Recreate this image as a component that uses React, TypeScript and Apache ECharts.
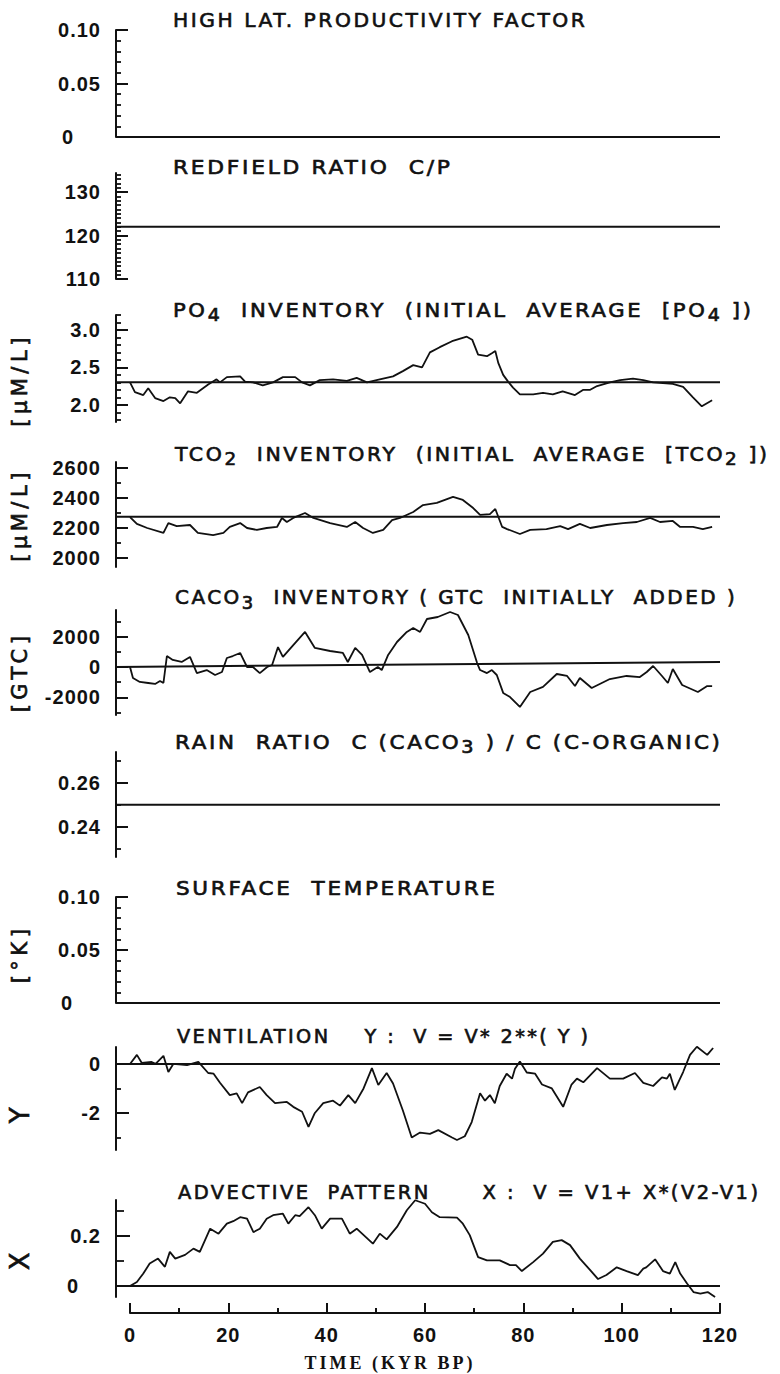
import React, { useEffect, useRef } from "react";
import * as echarts from "echarts";

// ---------------- DATA (time in kyr BP, value) ----------------
const highLatFactor = 0;
const redfieldRatio = 122;
const rainRatio = 0.25;
const surfaceTemp = 0;

const po4Initial = 2.3;
const tco2Initial = 2275;
const caco3Initial = [0, 330];
const ventInitial = 0;
const advInitial = 0;

const po4 = [[0,2.3],[1.0,2.17],[2.7,2.13],[3.7,2.22],[5.1,2.09],[6.8,2.05],[8.1,2.1],[9.2,2.09],[10.2,2.02],[11.8,2.18],[13.6,2.16],[15.9,2.27],[17.6,2.34],[18.3,2.3],[19.7,2.37],[22.4,2.38],[23.4,2.31],[25,2.3],[27,2.26],[29.1,2.3],[31.1,2.37],[33.6,2.37],[35,2.3],[36.6,2.26],[38.6,2.33],[41.3,2.34],[44.1,2.32],[46.1,2.36],[48.2,2.3],[50.8,2.34],[53.5,2.38],[55.5,2.45],[57.6,2.53],[59.4,2.5],[61,2.7],[63,2.77],[65.5,2.85],[68.5,2.91],[69.6,2.87],[70.8,2.67],[72.6,2.65],[73.6,2.69],[74.3,2.72],[74.9,2.56],[75.9,2.4],[76.9,2.31],[77.9,2.23],[79.3,2.14],[82,2.14],[84,2.16],[86,2.14],[88,2.18],[90.5,2.13],[92.2,2.2],[93.6,2.2],[95,2.25],[97.6,2.3],[99.7,2.33],[102.3,2.35],[104.4,2.33],[106.4,2.3],[108.4,2.29],[110.4,2.28],[112.5,2.24],[114.5,2.1],[116.3,1.98],[118.4,2.06]];

const tco2 = [[0,2273],[1.4,2227],[3.5,2200],[6.8,2167],[7.8,2233],[9.5,2213],[12.2,2220],[13.8,2167],[16.9,2153],[19,2167],[20.3,2207],[22.4,2233],[23.8,2200],[25.8,2187],[27.8,2200],[29.9,2207],[30.9,2267],[31.9,2240],[33.2,2267],[35.6,2300],[37.3,2267],[40.7,2233],[44.1,2207],[45.8,2240],[47.4,2200],[49.4,2167],[51.5,2187],[53.3,2253],[54.9,2267],[57.6,2307],[59.6,2353],[62.4,2367],[65.7,2407],[67.7,2387],[69.8,2333],[71.2,2287],[73.2,2293],[74.3,2327],[75.7,2207],[76.7,2193],[79.3,2160],[81.4,2187],[84.7,2193],[87.5,2213],[89.1,2193],[91.5,2227],[93.6,2200],[97,2220],[100.3,2233],[103.1,2240],[105.8,2267],[107.8,2240],[110.4,2247],[111.9,2207],[114.5,2207],[116.5,2193],[118.4,2207]];

const caco3 = [[0,0],[0.6,-720],[2,-980],[3.7,-1050],[5.1,-1110],[6.1,-920],[6.8,-1050],[7.5,720],[8.7,460],[10.5,330],[12.2,660],[13.6,-400],[15.6,-200],[17.3,-525],[18.7,-330],[19.7,590],[20.9,720],[22.4,920],[23.8,0],[25,0],[26.4,-400],[27.9,0],[28.9,130],[30.1,1310],[31.1,660],[33.2,1440],[35.6,2300],[37.6,1250],[40.7,1050],[43.3,920],[44.3,330],[45.8,1250],[47.2,790],[48.8,-330],[50.4,0],[51.2,-200],[52.5,790],[54.3,1640],[56.3,2300],[57.6,2560],[59,2300],[60.4,3150],[62.6,3280],[65.1,3610],[66.7,3410],[68.8,2100],[70.6,260],[71.2,-200],[72.6,-400],[73.6,-200],[74.6,-525],[75.9,-1700],[77.3,-1970],[79.3,-2620],[81.4,-1640],[84,-1310],[86.8,-460],[88.9,-590],[90.5,-1250],[91.5,-720],[93.9,-1380],[97.6,-790],[101,-590],[103.7,-660],[105.1,-330],[106.4,65],[108.2,-590],[109.4,-1050],[110.4,-130],[112.3,-1180],[115.5,-1640],[117.4,-1250],[118.4,-1250]];

const ventilation = [[0,0],[1.4,0.37],[2.4,0.04],[4.4,0.08],[5.2,0],[6.8,0.33],[7.8,-0.33],[8.8,0],[11.6,-0.05],[13.9,0.08],[15.9,-0.37],[17,-0.4],[18.3,-0.77],[20.3,-1.27],[21.7,-1.2],[22.8,-1.6],[24,-1.16],[26.4,-0.94],[27.8,-1.27],[29.5,-1.6],[31.9,-1.55],[33.2,-1.75],[35,-1.95],[36.3,-2.57],[37.6,-2],[39.3,-1.6],[41.3,-1.5],[42.7,-1.7],[44.4,-1.27],[45.8,-1.6],[47.5,-1],[49.2,-0.17],[50.5,-0.86],[52.2,-0.37],[53.5,-0.8],[55.5,-1.9],[57.3,-3.0],[59,-2.8],[61,-2.85],[62.7,-2.7],[65.5,-3.0],[66.5,-3.1],[68.1,-2.95],[69.5,-2.37],[71.2,-1.2],[72.2,-1.5],[73.2,-1.27],[74.2,-1.6],[75.2,-0.9],[76.6,-0.4],[77.7,-0.6],[78.3,-0.2],[79.3,0.1],[80.7,-0.35],[82.4,-0.4],[83.8,-0.84],[85.8,-1.0],[88.1,-1.75],[89.8,-0.84],[90.9,-0.6],[92.2,-0.75],[95,-0.17],[97.6,-0.6],[100.3,-0.6],[102.7,-0.37],[104.4,-0.77],[106.4,-0.9],[108.2,-0.55],[109.2,-0.6],[109.8,-0.4],[110.8,-1.06],[112.5,-0.33],[113.9,0.37],[115.3,0.7],[117.4,0.37],[118.6,0.65]];

const advective = [[0,0],[1.4,0.016],[2.7,0.05],[4,0.09],[5.7,0.11],[7.1,0.077],[8.1,0.137],[9.2,0.11],[11.2,0.125],[12.9,0.15],[14.2,0.137],[16.3,0.23],[18,0.21],[19.7,0.25],[21,0.26],[22.4,0.276],[23.8,0.27],[25.1,0.216],[26.4,0.23],[27.8,0.27],[29.1,0.284],[31.1,0.29],[32.2,0.25],[33.6,0.284],[34.5,0.28],[36.3,0.316],[37.6,0.284],[39,0.23],[40.7,0.27],[43.1,0.27],[44.7,0.21],[46.1,0.23],[49.4,0.17],[50.8,0.21],[52.2,0.187],[54.3,0.237],[56.3,0.304],[58,0.344],[60,0.33],[61.4,0.296],[63,0.276],[66.5,0.274],[67.7,0.25],[69.1,0.204],[70.8,0.116],[72.6,0.103],[75.2,0.103],[77.3,0.084],[78.5,0.084],[79.7,0.06],[82,0.096],[84,0.13],[86,0.177],[87.8,0.184],[89.5,0.164],[91.5,0.11],[93.6,0.064],[95.2,0.028],[96.9,0.044],[99,0.075],[101,0.06],[103.3,0.044],[104.4,0.07],[105,0.075],[106.8,0.107],[108.4,0.06],[109.8,0.05],[110.9,0.096],[111.9,0.05],[113.3,0.01],[114.6,-0.024],[116,-0.03],[117.5,-0.024],[119,-0.044]];

// ---------------- TICKS ----------------
const timeTicks = [0, 20, 40, 60, 80, 100, 120];
const timeMinorTicks = [10, 30, 50, 70, 90, 110];

const highLatTicks = [0, 0.05, 0.1];
const highLatLabels = ["0", "0.05", "0.10"];
const highLatMinor = [0.01, 0.02, 0.03, 0.04, 0.06, 0.07, 0.08, 0.09];

const redfieldTicks = [110, 120, 130];
const redfieldLabels = ["110", "120", "130"];
const redfieldMinor = [111,112,113,114,115,116,117,118,119,121,122,123,124,125,126,127,128,129,131,132,133,134];

const po4Ticks = [2.0, 2.5, 3.0];
const po4Labels = ["2.0", "2.5", "3.0"];
const po4Minor = [1.8,1.9,2.1,2.2,2.3,2.4,2.6,2.7,2.8,2.9,3.1,3.2];

const tco2Ticks = [2000, 2200, 2400, 2600];
const tco2Labels = ["2000", "2200", "2400", "2600"];
const tco2Minor = [2100, 2300, 2500];

const caco3Ticks = [-2000, 0, 2000];
const caco3Labels = ["-2000", "0", "2000"];
const caco3Minor = [-3000, -1000, 1000, 3000];

const rainTicks = [0.24, 0.26];
const rainLabels = ["0.24", "0.26"];
const rainMinor = [0.23, 0.25, 0.27];

const tempTicks = [0, 0.05, 0.1];
const tempLabels = ["0", "0.05", "0.10"];
const tempMinor = [0.01, 0.02, 0.03, 0.04, 0.06, 0.07, 0.08, 0.09];

const ventTicks = [-2, 0];
const ventLabels = ["-2", "0"];
const ventMinor = [-3, -1];

const advTicks = [0, 0.2];
const advLabels = ["0", "0.2"];
const advMinor = [0.1, 0.3];

// ---------------- TEXTS ----------------
const panelTitles: [string, number][][] = [
  [["HIGH LAT. PRODUCTIVITY FACTOR", 0]],
  [["REDFIELD RATIO  C/P", 0]],
  [["PO", 0], ["4", 1], ["  INVENTORY  (INITIAL  AVERAGE  [PO", 0], ["4", 1], [" ])", 0]],
  [["TCO", 0], ["2", 1], ["  INVENTORY  (INITIAL  AVERAGE  [TCO", 0], ["2", 1], [" ])", 0]],
  [["CACO", 0], ["3", 1], ["  INVENTORY ( GTC  INITIALLY  ADDED )", 0]],
  [["RAIN  RATIO  C (CACO", 0], ["3", 1], [" ) / C (C-ORGANIC)", 0]],
  [["SURFACE  TEMPERATURE", 0]],
  [["VENTILATION    Y :  V = V* 2**( Y )", 0]],
  [["ADVECTIVE  PATTERN      X :  V = V1+ X*(V2-V1)", 0]],
];
const yNames = ["", "", "[µM/L]", "[µM/L]", "[GTC]", "", "[°K]", "Y", "X"];
const timeName = "TIME (KYR BP)";

// ---------------- LAYOUT ----------------
const INK = "#111";
const X_MIN = -2.85;
const X_MAX = 120;
const TITLE_FS = 20;
const SUB_FS = 18;
const TITLE_LS = 2.5;

const layout = [
  { top: 30, height: 107, min: 0, max: 0.1, titleY: 20, titleX: 173, titleEnd: 585, nameY: 0, zeroShift: 27, major: 12, minorLen: 5 },
  { top: 173, height: 106, min: 110, max: 134.4, titleY: 167, titleX: 173, titleEnd: 450, nameY: 0, zeroShift: 0, major: 12, minorLen: 5 },
  { top: 315, height: 107, min: 1.77, max: 3.2, titleY: 310, titleX: 173, titleEnd: 751, nameY: 380, zeroShift: 0, major: 12, minorLen: 5 },
  { top: 462, height: 105, min: 1940, max: 2640, titleY: 454, titleX: 175, titleEnd: 767, nameY: 515, zeroShift: 0, major: 12, minorLen: 5 },
  { top: 610, height: 105, min: -3150, max: 3740, titleY: 597, titleX: 175, titleEnd: 735, nameY: 672, zeroShift: 0, major: 12, minorLen: 5 },
  { top: 752, height: 105, min: 0.2263, max: 0.274, titleY: 742, titleX: 175, titleEnd: 720, nameY: 0, zeroShift: 0, major: 12, minorLen: 5 },
  { top: 897, height: 106, min: 0, max: 0.1, titleY: 888, titleX: 176, titleEnd: 495, nameY: 954, zeroShift: 28, major: 12, minorLen: 5 },
  { top: 1047, height: 103, min: -3.51, max: 0.69, titleY: 1036, titleX: 177, titleEnd: 588, nameY: 1114, zeroShift: 0, major: 13, minorLen: 5 },
  { top: 1200, height: 97, min: -0.044, max: 0.345, titleY: 1192, titleX: 178, titleEnd: 758, nameY: 1260, zeroShift: 22, major: 14, minorLen: 8 },
];

const panelTicks = [
  [highLatTicks, highLatLabels, highLatMinor],
  [redfieldTicks, redfieldLabels, redfieldMinor],
  [po4Ticks, po4Labels, po4Minor],
  [tco2Ticks, tco2Labels, tco2Minor],
  [caco3Ticks, caco3Labels, caco3Minor],
  [rainTicks, rainLabels, rainMinor],
  [tempTicks, tempLabels, tempMinor],
  [ventTicks, ventLabels, ventMinor],
  [advTicks, advLabels, advMinor],
] as [number[], string[], number[]][];

const panelCurves: (number[][] | null)[] = [null, null, po4, tco2, caco3, null, null, ventilation, advective];
const panelRefs: number[][] = [
  [highLatFactor, highLatFactor],
  [redfieldRatio, redfieldRatio],
  [po4Initial, po4Initial],
  [tco2Initial, tco2Initial],
  caco3Initial,
  [rainRatio, rainRatio],
  [surfaceTemp, surfaceTemp],
  [ventInitial, ventInitial],
  [advInitial, advInitial],
];

let measureCtx: CanvasRenderingContext2D | null = null;
function measure(text: string, font: string) {
  if (!measureCtx) measureCtx = document.createElement("canvas").getContext("2d");
  measureCtx!.font = font;
  return measureCtx!.measureText(text).width;
}

function buildTitle(parts: [string, number][], x: number, y: number, end: number) {
  let dx = 0;
  const children = parts.map(([t, sub]) => {
    const fs = sub ? SUB_FS : TITLE_FS;
    const font = `${fs}px "DejaVu Sans"`;
    const el = {
      type: "text",
      x: dx,
      y: sub ? 5 : 0,
      style: { text: t, font, fill: INK, textAlign: "left", textVerticalAlign: "middle" },
    };
    dx += measure(t, font) + t.length * TITLE_LS;
    return el;
  });
  const natural = dx - TITLE_LS;
  const s = natural > 0 ? (end - x) / natural : 1;
  return { type: "group", x, y, scaleX: s, scaleY: 1, silent: true, children };
}

const labelFont = { fontFamily: "Liberation Sans", fontWeight: "bold" as const, fontSize: 20, color: INK };

function buildOption() {
  const grid: any[] = [];
  const xAxis: any[] = [];
  const yAxis: any[] = [];
  const series: any[] = [];
  const graphic: any[] = [];

  layout.forEach((p, i) => {
    const [major, labels, minor] = panelTicks[i];
    const range = p.max - p.min;
    grid.push({ left: 116, right: 60, top: p.top, height: p.height });
    xAxis.push({ gridIndex: i, type: "value", min: X_MIN, max: X_MAX, show: false });
    yAxis.push({
      gridIndex: i,
      type: "value",
      position: "left",
      min: p.min,
      max: p.max,
      axisLine: { show: true, onZero: false, lineStyle: { color: INK, width: 2 } },
      axisTick: { show: true, inside: true, length: p.major, customValues: major, lineStyle: { color: INK, width: 2 } },
      axisLabel: {
        show: true,
        customValues: major,
        margin: 15,
        ...labelFont,
        formatter: (v: number) => {
          const k = major.findIndex((t) => Math.abs(t - v) < range * 1e-6);
          const s = k >= 0 ? labels[k] : "";
          if (p.zeroShift && s === "0") return "{z|0}";
          return s;
        },
        rich: { z: { ...labelFont, padding: [0, p.zeroShift, 0, 0] } },
      },
      splitLine: { show: false },
    });
    yAxis.push({
      gridIndex: i,
      type: "value",
      position: "left",
      min: p.min,
      max: p.max,
      axisLine: { show: false, onZero: false },
      axisTick: { show: true, inside: true, length: p.minorLen, customValues: minor, lineStyle: { color: INK, width: 1.8 } },
      axisLabel: { show: false },
      splitLine: { show: false },
    });
    const ref = panelRefs[i];
    series.push({
      type: "line",
      xAxisIndex: i,
      yAxisIndex: 2 * i,
      data: [[X_MIN, ref[0]], [X_MAX, ref[1]]],
      showSymbol: false,
      symbol: "none",
      clip: false,
      silent: true,
      lineStyle: { color: INK, width: 2 },
    });
    const curve = panelCurves[i];
    if (curve) {
      series.push({
        type: "line",
        xAxisIndex: i,
        yAxisIndex: 2 * i,
        data: curve,
        showSymbol: false,
        symbol: "none",
        clip: false,
        silent: true,
        lineStyle: { color: INK, width: 1.8 },
      });
    }
    graphic.push(buildTitle(panelTitles[i], p.titleX, p.titleY, p.titleEnd));
    if (yNames[i]) {
      const big = yNames[i].length === 1;
      graphic.push({
        type: "text",
        x: 20,
        y: p.nameY,
        rotation: Math.PI / 2,
        silent: true,
        style: {
          text: yNames[i],
          font: `${big ? 26 : 21}px "DejaVu Sans"`,
          fill: INK,
          textAlign: "center",
          textVerticalAlign: "middle",
        },
      });
    }
  });

  // bottom time axis
  const ti = layout.length;
  grid.push({ left: 130, right: 60, top: 1290, height: 23 });
  xAxis.push({
    gridIndex: ti,
    type: "value",
    position: "bottom",
    min: 0,
    max: 120,
    axisLine: { show: true, onZero: false, lineStyle: { color: INK, width: 2 } },
    axisTick: { show: true, inside: true, length: 10, customValues: timeTicks, lineStyle: { color: INK, width: 2 } },
    axisLabel: { show: true, customValues: timeTicks, margin: 12, ...labelFont },
    splitLine: { show: false },
  });
  xAxis.push({
    gridIndex: ti,
    type: "value",
    position: "bottom",
    min: 0,
    max: 120,
    axisLine: { show: false, onZero: false },
    axisTick: { show: true, inside: true, length: 5, customValues: timeMinorTicks, lineStyle: { color: INK, width: 2 } },
    axisLabel: { show: false },
    splitLine: { show: false },
  });
  yAxis.push({ gridIndex: ti, type: "value", show: false, min: 0, max: 1 });

  graphic.push({
    type: "text",
    x: 390,
    y: 1363,
    silent: true,
    style: {
      text: timeName,
      font: 'bold 18px "Liberation Serif"',
      fill: INK,
      textAlign: "center",
      textVerticalAlign: "middle",
    },
  });

  return {
    animation: false,
    backgroundColor: "#fff",
    grid,
    xAxis,
    yAxis,
    series,
    graphic: { elements: graphic },
  };
}

const css = `
.chart svg text { white-space: pre; }
.chart text[style*="DejaVu Sans"] { letter-spacing: 2.5px; stroke: #111; stroke-width: 0.65px; }
.chart text[style*="DejaVu Sans"][style*="21px"] { letter-spacing: 4.5px; }
.chart text[style*="Liberation Sans"] { letter-spacing: 1px; }
.chart text[style*="Liberation Serif"] { letter-spacing: 3px; }
`;

export default function App() {
  const ref = useRef<HTMLDivElement>(null);
  useEffect(() => {
    if (!ref.current) return;
    const chart = echarts.init(ref.current, null, { renderer: "svg" });
    chart.setOption(buildOption() as any);
    return () => chart.dispose();
  }, []);
  return (
    <>
      <style>{css}</style>
      <div
        ref={ref}
        className="chart"
        style={{ position: "absolute", left: 0, top: 0, width: 780, height: 1374, background: "#fff" }}
      />
    </>
  );
}
